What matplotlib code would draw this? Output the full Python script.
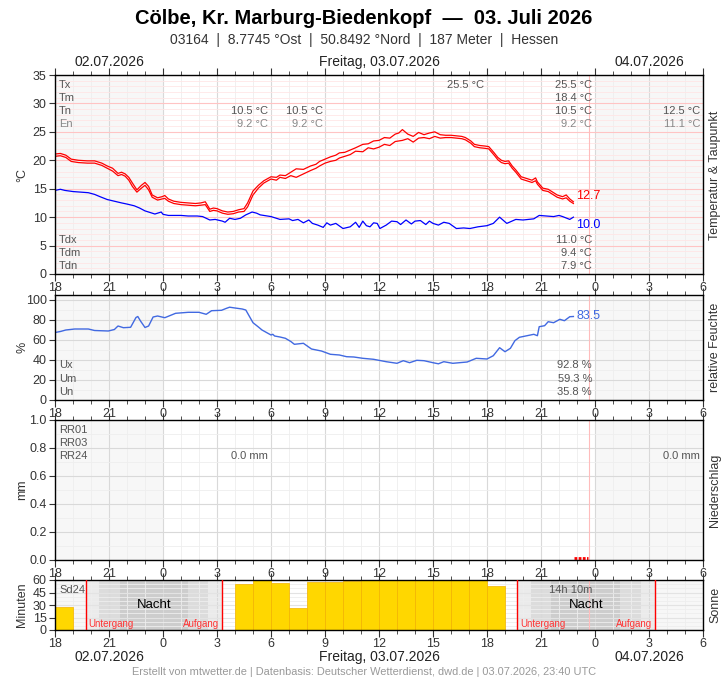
import numpy as np
import matplotlib
matplotlib.use('Agg')
import matplotlib.pyplot as plt
from matplotlib.ticker import MultipleLocator

plt.rcParams['font.family'] = ['Liberation Sans', 'DejaVu Sans']

# hours since 02.07. 18:00 UTC
temp_t = [0.0, 0.3, 0.6, 0.9, 1.3, 1.8, 2.2, 2.6, 2.9, 3.2, 3.5, 3.7, 3.9, 4.1, 4.3, 4.55, 4.8, 5.0,
          5.2, 5.4, 5.7, 5.95, 6.1, 6.3, 6.6, 7.0, 7.4, 7.8, 8.1, 8.35, 8.6, 8.8, 9.0, 9.3, 9.6, 9.9,
          10.2, 10.5, 10.7, 11.0, 11.3, 11.6, 12.0, 12.3, 12.5, 12.8, 13.1, 13.4, 13.8, 14.2, 14.5,
          14.7, 15.0, 15.3, 15.6, 15.8, 16.1, 16.4, 16.7, 17.1, 17.4, 17.7, 18.0, 18.3, 18.6, 18.9,
          19.1, 19.3, 19.6, 19.9, 20.2, 20.5, 20.8, 21.1, 21.4, 21.7, 22.0, 22.3, 22.6, 22.8, 23.1,
          23.3, 23.6, 23.9, 24.1, 24.4, 24.6, 24.8, 25.0, 25.2, 25.4, 25.6, 25.9, 26.2, 26.5, 26.7,
          26.8, 27.1, 27.4, 27.6, 27.9, 28.2, 28.4, 28.6, 28.8]
temp_a = [21.1, 21.2, 20.9, 20.2, 20.0, 19.9, 19.9, 19.5, 19.0, 18.6, 17.7, 17.9, 17.6, 17.0, 16.0,
          14.8, 15.6, 16.1, 15.4, 13.9, 13.4, 13.6, 13.8, 13.2, 12.8, 12.6, 12.5, 12.4, 12.5, 12.7,
          11.4, 11.6, 11.5, 11.1, 10.9, 11.0, 11.3, 11.5, 12.5, 14.6, 15.6, 16.4, 17.1, 17.0, 17.4,
          17.3, 17.9, 18.5, 18.4, 19.0, 19.3, 19.8, 20.2, 20.6, 20.9, 21.3, 21.4, 21.8, 22.2, 22.8,
          22.9, 23.4, 23.5, 24.0, 23.9, 24.6, 24.8, 25.4, 24.6, 24.2, 24.9, 24.5, 24.8, 25.0, 24.5,
          24.4, 24.4, 24.3, 24.2, 24.0, 23.4, 22.8, 22.6, 22.5, 22.4, 21.3, 20.5, 20.0, 19.8, 19.9,
          19.0, 18.3, 17.1, 16.8, 16.5, 16.9, 16.2, 15.1, 14.9, 14.5, 13.9, 13.6, 13.9, 13.2, 12.7]
temp_b = [20.7, 20.8, 20.5, 19.8, 19.6, 19.5, 19.5, 19.1, 18.6, 18.1, 17.3, 17.5, 17.2, 16.5, 15.4,
          14.4, 15.1, 15.6, 14.8, 13.5, 13.0, 13.2, 13.3, 12.8, 12.4, 12.2, 12.1, 12.0, 12.1, 12.2,
          11.0, 11.2, 11.1, 10.7, 10.5, 10.6, 10.9, 11.0, 11.8, 13.9, 15.1, 16.0, 16.7, 16.5, 17.0,
          16.8, 17.3, 17.0, 17.6, 18.2, 18.6, 19.0, 19.5, 19.8, 20.0, 20.4, 20.7, 21.0, 21.6, 21.5,
          22.2, 22.0, 22.3, 22.8, 22.6, 23.3, 23.4, 23.5, 23.8, 23.2, 23.9, 24.0, 23.8, 24.2, 23.9,
          24.0, 24.0, 23.9, 23.8, 23.6, 23.0, 22.4, 22.2, 22.1, 22.0, 20.9, 20.1, 19.6, 19.4, 19.5,
          18.6, 17.9, 16.7, 16.4, 16.1, 16.4, 15.8, 14.7, 14.5, 14.1, 13.5, 13.2, 13.4, 12.8, 12.4]

dew_t = [0.0, 0.3, 0.55, 1.0, 1.85, 2.2, 2.5, 2.9, 3.3, 3.7, 4.0, 4.4, 4.7, 5.0, 5.3, 5.55, 5.9, 6.0,
         6.3, 7.0, 7.4, 7.9, 8.2, 8.6, 8.9, 9.3, 9.45, 9.7, 10.0, 10.3, 10.6, 10.95, 11.2, 11.4, 12.0,
         12.5, 13.0, 13.2, 13.5, 13.8, 14.1, 14.3, 14.6, 14.9, 15.1, 15.3, 15.6, 16.0, 16.4, 16.7,
         16.9, 17.1, 17.3, 17.5, 17.7, 17.9, 18.05, 18.4, 18.7, 19.0, 19.2, 19.5, 19.8, 20.0, 20.3,
         20.6, 20.8, 21.0, 21.3, 21.6, 21.9, 22.3, 22.7, 23.05, 23.5, 24.0, 24.35, 24.7, 25.1, 25.6,
         26.0, 26.6, 26.9, 27.3, 27.7, 28.0, 28.2, 28.6, 28.8]
dew_v = [14.7, 14.9, 14.7, 14.5, 14.3, 14.0, 13.6, 13.1, 12.8, 12.5, 12.3, 12.0, 11.6, 11.1, 10.8,
         10.55, 10.9, 10.5, 10.3, 10.3, 10.2, 10.2, 10.1, 9.5, 9.6, 9.3, 9.1, 9.8, 9.6, 9.8, 10.4,
         10.9, 10.7, 10.4, 10.1, 9.6, 9.7, 9.4, 9.6, 9.0, 9.5, 8.9, 8.6, 8.2, 9.0, 8.6, 8.9, 8.0,
         8.3, 9.1, 8.2, 9.3, 8.5, 8.3, 9.0, 8.9, 8.0, 8.6, 9.3, 9.2, 8.7, 9.5, 8.8, 9.3, 9.4, 8.7,
         9.3, 8.9, 8.6, 9.1, 8.9, 8.0, 8.1, 8.0, 8.3, 8.5, 8.9, 10.0, 8.9, 9.6, 9.5, 9.7, 10.3, 10.2,
         10.1, 10.3, 10.1, 9.6, 10.0]

hum_t = [0.0, 0.3, 0.6, 1.1, 1.85, 2.2, 2.96, 3.3, 3.5, 3.8, 4.2, 4.5, 4.6, 4.75, 5.0, 5.2, 5.45,
         5.7, 6.1, 6.4, 6.7, 7.4, 8.0, 8.4, 8.7, 9.25, 9.5, 9.7, 10.0, 10.4, 10.6, 11.0, 11.3, 11.5,
         12.0, 12.1, 12.2, 12.5, 12.8, 13.1, 13.3, 13.8, 14.25, 14.8, 15.3, 15.8, 16.2, 16.6, 17.1,
         17.7, 18.4, 19.0, 19.35, 19.7, 20.1, 20.5, 21.0, 21.3, 21.6, 22.1, 22.9, 23.4, 24.0, 24.35,
         24.7, 25.0, 25.3, 25.55, 25.8, 26.6, 26.8, 26.9, 27.2, 27.4, 27.7, 28.05, 28.3, 28.6, 28.8]
hum_v = [67.5, 68.5, 70, 71, 71, 69.5, 69, 70.5, 74, 72.3, 72.7, 82.5, 83.5, 79, 72.5, 74, 83, 84,
         82.3, 84.5, 86.7, 87.7, 87.7, 85.7, 89.3, 89.7, 91.5, 92.8, 92, 91, 90, 77.3, 73, 70, 65,
         65.7, 64, 63, 61.7, 58.5, 55.7, 56.7, 51, 49, 45.7, 45, 43.3, 43, 41.7, 40.7, 38.3, 36.7,
         39.3, 37.3, 39.7, 39.3, 37.3, 36.2, 38.3, 36.7, 38, 41.7, 41, 44.3, 52.3, 48.3, 51.7, 59.3,
         62.7, 65.7, 64.3, 73.3, 74.3, 78.3, 77.3, 80.7, 79.3, 83.3, 83.5]

rr_t = [28.85, 29.0, 29.15, 29.3, 29.45, 29.6]
rr_v = [0.0, 0.0, 0.0, 0.0, 0.0, 0.0]

sun_h = [0, 10, 11, 12, 13, 14, 15, 16, 17, 18, 19, 20, 21, 22, 23, 24]
sun_min = [28, 55, 60, 57, 27, 58, 58, 59, 60, 60, 60, 60, 60, 60, 60, 53]

# twilight bands (start, end, shade) for both nights
night_bands = [(1.72, 2.44, '#ebebeb'), (2.44, 3.61, '#dcdcdc'), (3.61, 7.39, '#cdcdcd'),
               (7.39, 8.5, '#dcdcdc'), (8.5, 9.28, '#ebebeb'),
               (25.67, 26.44, '#ebebeb'), (26.44, 27.56, '#dcdcdc'), (27.56, 31.39, '#cdcdcd'),
               (31.39, 32.56, '#dcdcdc'), (32.56, 33.33, '#ebebeb')]
sunset = [1.72, 25.67]
sunrise = [9.28, 33.33]
now_h = 29.67

W, H = 728, 680
fig = plt.figure(figsize=(W / 100, H / 100), dpi=100)

def px_axes(top, bottom):
    return fig.add_axes([55 / W, 1 - bottom / H, 648 / W, (bottom - top) / H])

def style_axes(ax, hgrid_major, hgrid_minor):
    ax.set_xlim(0, 36)
    ax.xaxis.set_minor_locator(MultipleLocator(1))
    ticks = np.arange(0, 37, 3)
    ax.set_xticks(ticks)
    ax.set_xticklabels([str(int((18 + t) % 24)) for t in ticks])
    ax.tick_params(axis='x', which='both', direction='out', top=True, labelsize=9,
                   colors='#333333', pad=1)
    ax.tick_params(axis='x', which='major', length=5)
    ax.tick_params(axis='x', which='minor', length=3)
    ax.tick_params(axis='y', which='major', length=4, labelsize=9, colors='#333333', pad=2)
    ax.tick_params(axis='y', which='minor', length=0)
    ax.grid(True, which='major', axis='x', color='#d9d9d9', lw=0.8)
    ax.grid(True, which='minor', axis='x', color='#eeeeee', lw=0.6)
    ax.grid(True, which='major', axis='y', color=hgrid_major, lw=0.8)
    ax.grid(True, which='minor', axis='y', color=hgrid_minor, lw=0.6)
    ax.set_axisbelow(True)
    for s in ax.spines.values():
        s.set_color('black')
        s.set_linewidth(1)
    ax.axvline(now_h, color='#ffbcbc', lw=0.8, zorder=1)

def shade_days(ax):
    ax.axvspan(0, 6, color='#f7f7f7', zorder=0.2, lw=0)
    ax.axvspan(30, 36, color='#f7f7f7', zorder=0.2, lw=0)

gray = '#555555'
light = '#888888'

# ---- temperature & dew point ----
ax1 = px_axes(75, 274)
shade_days(ax1)
ax1.set_ylim(0, 35)
ax1.yaxis.set_major_locator(MultipleLocator(5))
ax1.yaxis.set_minor_locator(MultipleLocator(1))
style_axes(ax1, '#ffc4c4', '#ffe6e6')
ax1.plot(temp_t, temp_a, color='#ff0000', lw=0.9)
ax1.plot(temp_t, temp_b, color='#ff0000', lw=0.9)
ax1.plot(dew_t, dew_v, color='#0000ff', lw=0.9)
ax1.text(28.95, temp_a[-1] + 1.1, '%.1f' % temp_a[-1], color='#ff0000', fontsize=9, va='center')
ax1.text(28.95, dew_v[-1] - 1.4, '%.1f' % dew_v[-1], color='#0000ff', fontsize=9, va='center')

fs = 8
for i, lab in enumerate(['Tx', 'Tm', 'Tn', 'En']):
    fig.text(59 / W, 1 - (85 + 13 * i) / H, lab, fontsize=fs, color=light if lab == 'En' else gray,
             va='center')
for i, lab in enumerate(['Tdx', 'Tdm', 'Tdn']):
    fig.text(59 / W, 1 - (240 + 13 * i) / H, lab, fontsize=fs, color=gray, va='center')

def stat(x, y, s, c=gray):
    fig.text(x / W, 1 - y / H, s, fontsize=fs, color=c, ha='right', va='center')

stat(268, 111, '10.5 °C'); stat(268, 124, '9.2 °C', light)
stat(323, 111, '10.5 °C'); stat(323, 124, '9.2 °C', light)
stat(484, 85, '25.5 °C')
stat(592, 85, '25.5 °C'); stat(592, 98, '18.4 °C'); stat(592, 111, '10.5 °C')
stat(592, 124, '9.2 °C', light)
stat(700, 111, '12.5 °C'); stat(700, 124, '11.1 °C', light)
stat(592, 240, '11.0 °C'); stat(592, 253, '9.4 °C'); stat(592, 266, '7.9 °C')

# ---- humidity ----
ax2 = px_axes(295, 400)
shade_days(ax2)
ax2.set_ylim(0, 105)
ax2.set_yticks([0, 20, 40, 60, 80, 100])
ax2.yaxis.set_minor_locator(MultipleLocator(10))
style_axes(ax2, '#d9d9d9', '#eeeeee')
ax2.plot(hum_t, hum_v, color='#4169e1', lw=1)
ax2.text(28.95, hum_v[-1] + 0.5, '%.1f' % hum_v[-1], color='#4169e1', fontsize=9, va='center')
for i, lab in enumerate(['Ux', 'Um', 'Un']):
    fig.text(59 / W, 1 - (365 + 13.5 * i) / H, lab, fontsize=fs, color=gray, va='center')
stat(592, 365, '92.8 %'); stat(592, 378.5, '59.3 %'); stat(592, 392, '35.8 %')

# ---- precipitation ----
ax3 = px_axes(420, 560)
shade_days(ax3)
ax3.set_ylim(0, 1)
ax3.yaxis.set_major_locator(MultipleLocator(0.2))
ax3.yaxis.set_minor_locator(MultipleLocator(0.1))
ax3.yaxis.set_major_formatter(matplotlib.ticker.FormatStrFormatter('%.1f'))
style_axes(ax3, '#d9d9d9', '#eeeeee')
ax3.plot(rr_t, np.array(rr_v) + 0.012, color='#ff0000', lw=2, ls=(0, (1, 0.5)), clip_on=False)
for i, lab in enumerate(['RR01', 'RR03', 'RR24']):
    fig.text(59 / W, 1 - (430 + 13 * i) / H, lab, fontsize=fs, color=gray, va='center')
stat(268, 456, '0.0 mm'); stat(700, 456, '0.0 mm')

# ---- sunshine ----
ax4 = px_axes(580, 630)
shade_days(ax4)
for a, b, c in night_bands:
    ax4.axvspan(a, b, color=c, zorder=0.3, lw=0)
ax4.set_ylim(0, 60)
ax4.set_yticks([0, 15, 30, 45, 60])
ax4.yaxis.set_minor_locator(MultipleLocator(5))
style_axes(ax4, '#e3e3e3', '#eeeeee')
ax4.bar(sun_h, sun_min, width=1, align='edge', color='#ffd700', edgecolor='#f3b200', lw=0.5,
        zorder=2)
for s, r in zip(sunset, sunrise):
    ax4.axvline(s, color='#ff0000', lw=1, zorder=3)
    ax4.axvline(r, color='#ff0000', lw=1, zorder=3)
    ax4.text(s + 0.15, 7.5, 'Untergang', color='#ff3333', fontsize=7, va='center', zorder=4)
    ax4.text(r - 0.15, 7.5, 'Aufgang', color='#ff3333', fontsize=7, va='center', ha='right',
             zorder=4)
    ax4.text((s + r) / 2, 30, 'Nacht', color='black', fontsize=9.5, ha='center', va='center',
             zorder=4)
fig.text(59 / W, 1 - 590 / H, 'Sd24', fontsize=fs, color=gray, va='center')
stat(592, 590, '14h 10m')

# axis titles
for y, s in [(175, '°C'), (347, '%'), (490, 'mm'), (605, 'Minuten')]:
    fig.text(22 / W, 1 - y / H, s, rotation=90, fontsize=9, color='#333333', ha='center',
             va='center')
for y, s in [(175, 'Temperatur & Taupunkt'), (347, 'relative Feuchte'), (490, 'Niederschlag'),
             (605, 'Sonne')]:
    fig.text(715 / W, 1 - y / H, s, rotation=90, fontsize=9, color='#333333', ha='center',
             va='center')

# header / footer
fig.text(0.5, 1 - 18 / H, 'Cölbe, Kr. Marburg-Biedenkopf  —  03. Juli 2026', fontsize=14.5,
         fontweight='bold', ha='center', va='center')
fig.text(0.5, 1 - 40 / H, '03164  |  8.7745 °Ost  |  50.8492 °Nord  |  187 Meter  |  Hessen',
         fontsize=10, color='#333333', ha='center', va='center')
for y in [62, 657]:
    fig.text(109 / W, 1 - y / H, '02.07.2026', fontsize=10, color='#222222', ha='center',
             va='center')
    fig.text(379 / W, 1 - y / H, 'Freitag, 03.07.2026', fontsize=10, color='#222222',
             ha='center', va='center')
    fig.text(649 / W, 1 - y / H, '04.07.2026', fontsize=10, color='#222222', ha='center',
             va='center')
fig.text(0.5, 1 - 672 / H,
         'Erstellt von mtwetter.de | Datenbasis: Deutscher Wetterdienst, dwd.de | 03.07.2026, 23:40 UTC',
         fontsize=7.9, color='#999999', ha='center', va='center')

fig.savefig('out.png', dpi=100)
